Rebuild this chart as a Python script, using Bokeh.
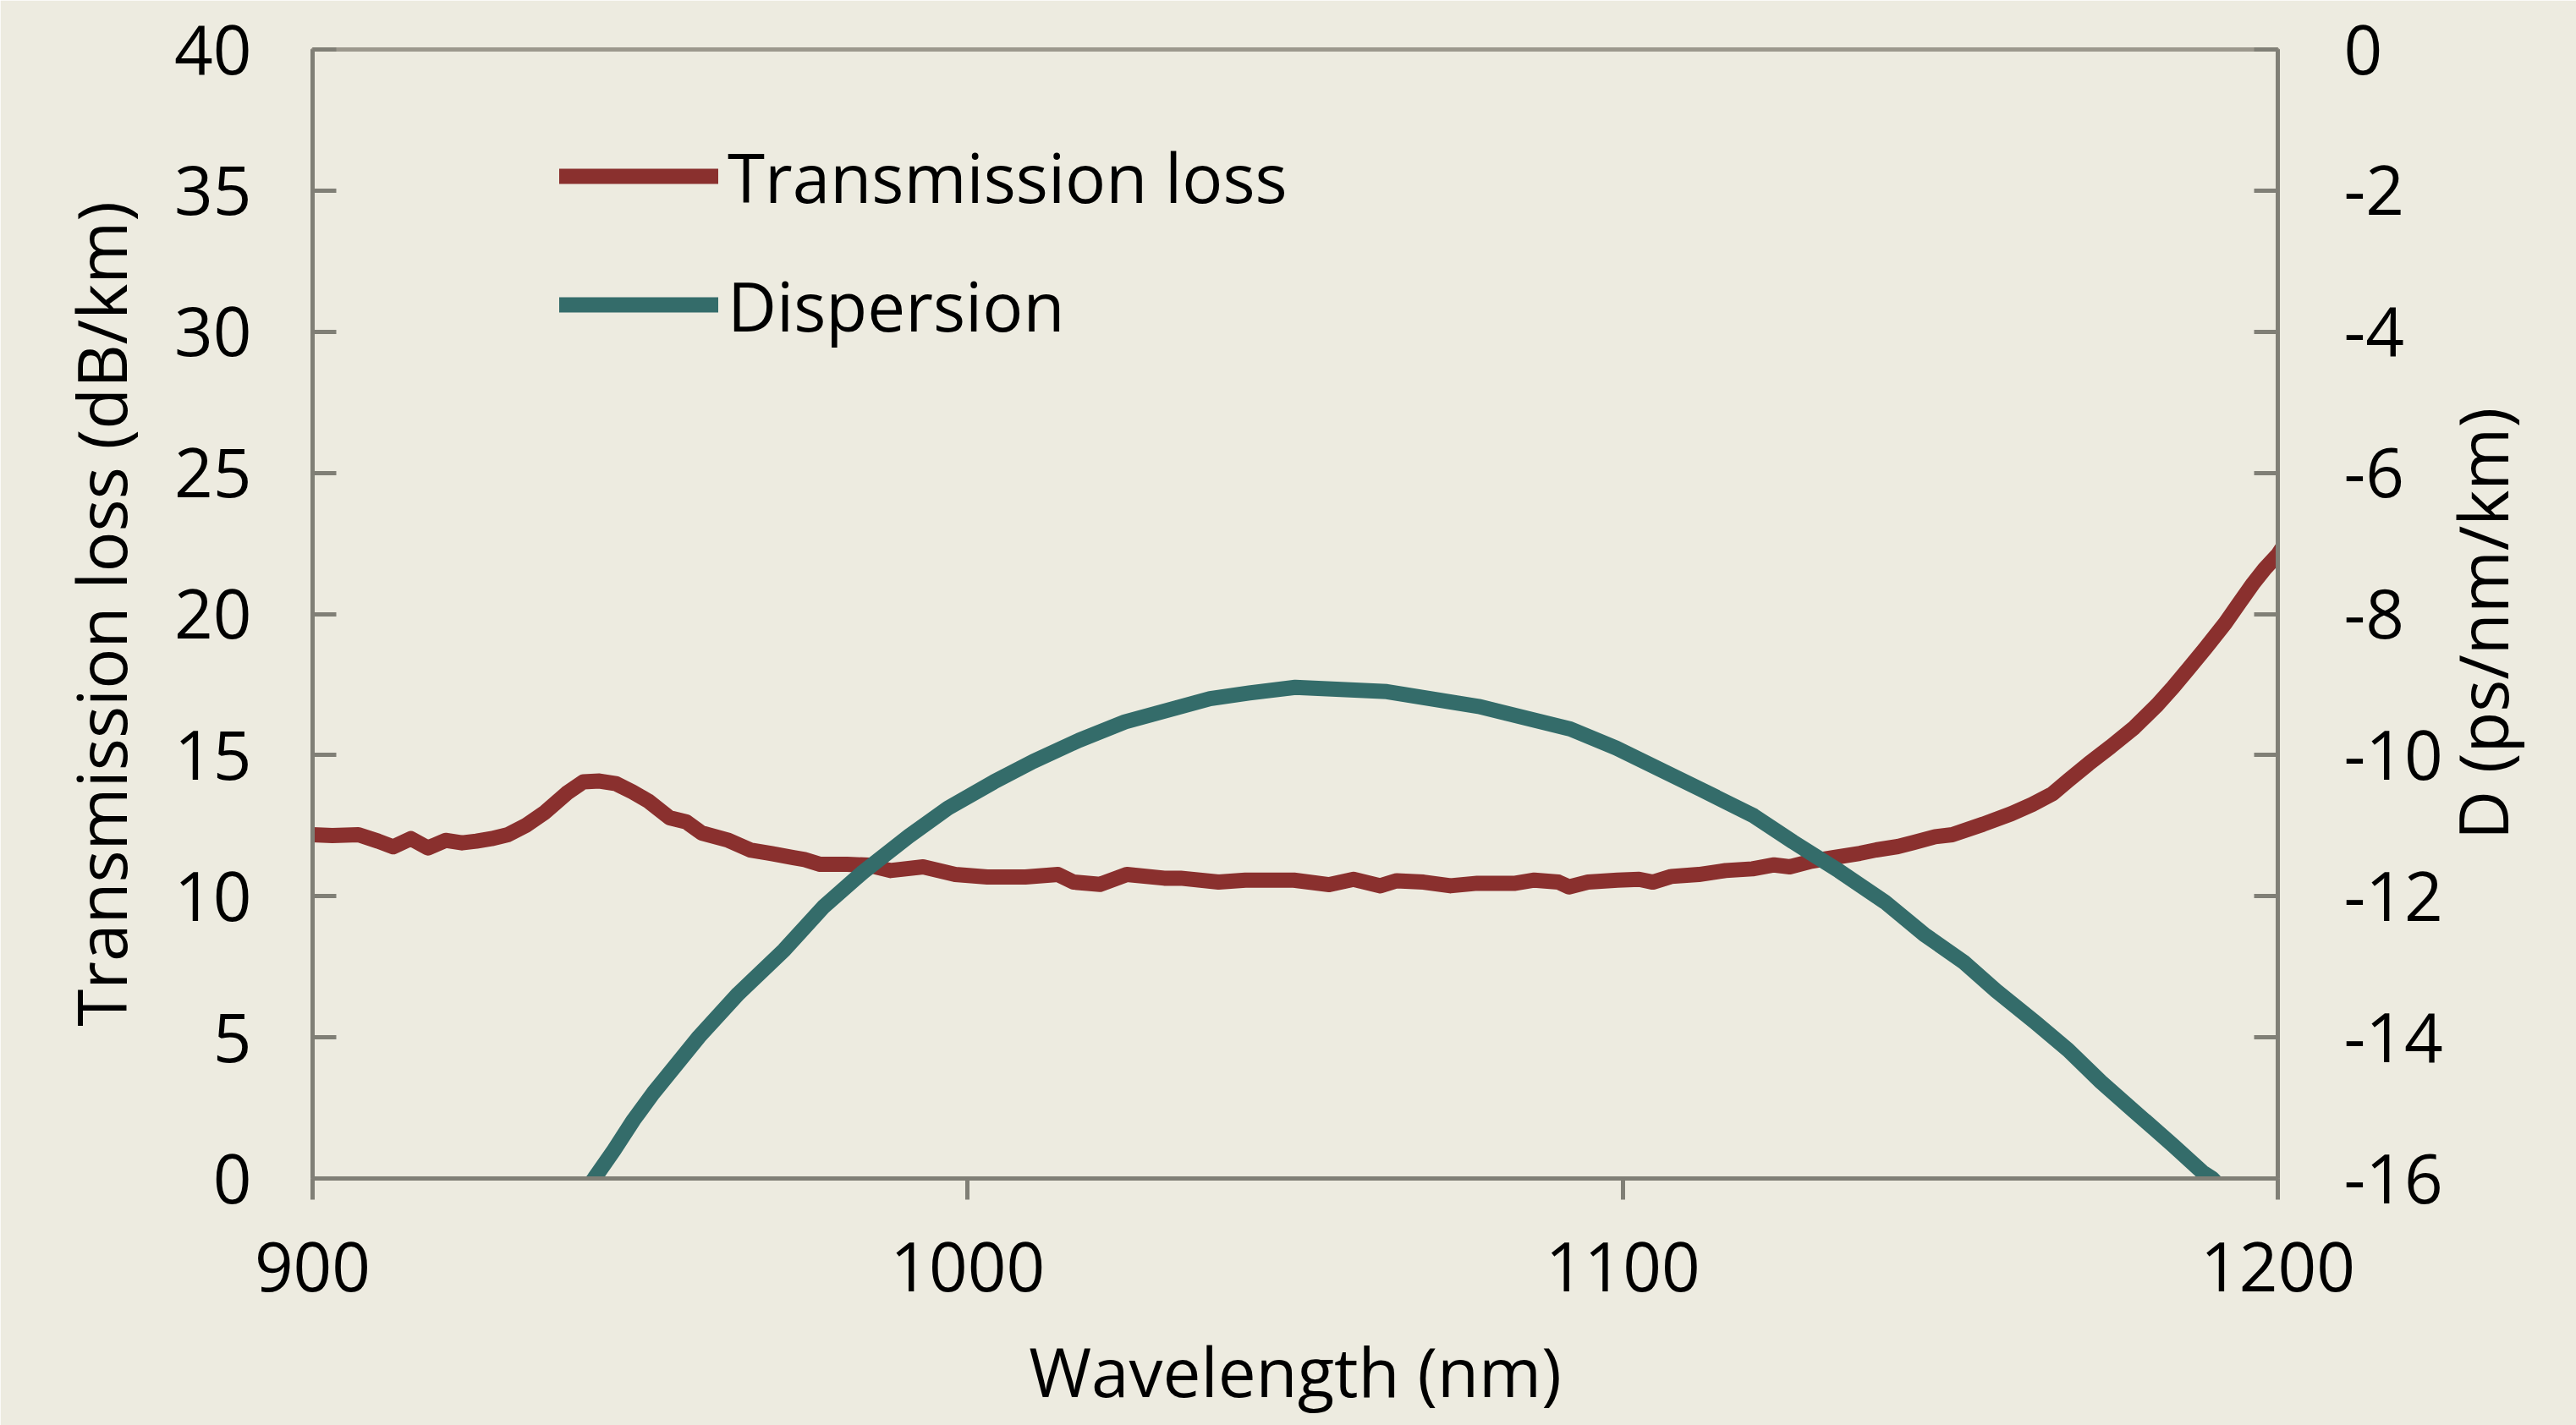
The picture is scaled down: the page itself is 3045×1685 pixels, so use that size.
import math
from bokeh.plotting import figure
from bokeh.models import Range1d, LinearAxis, FixedTicker, Legend, LegendItem
from bokeh.embed import file_html
from bokeh.resources import INLINE

# ---------------- data ----------------
wavelength_loss = [900, 903, 907, 910, 912.3, 915, 917.6, 920.3, 922.8, 925, 927.3, 929.8,
                   932.5, 935.5, 938.8, 941.3, 943.8, 946.3, 948.8, 951.2, 954.5, 957, 959.4,
                   963.5, 966.8, 970.1, 973.4, 975.1, 977.5, 981.6, 984.9, 988.2, 993.2, 998.1,
                   1003, 1008.8, 1013.8, 1016.2, 1020.2, 1024.3, 1030, 1032.5, 1038.3, 1042.4,
                   1049.8, 1055.2, 1058.9, 1063, 1065.5, 1069.6, 1073.7, 1077.8, 1083.6, 1086.5,
                   1090.2, 1091.8, 1094.7, 1099.2, 1102.5, 1104.6, 1107.4, 1111.6, 1115.7, 1119.8,
                   1123.1, 1125.5, 1128.8, 1132.1, 1136.2, 1138.7, 1142, 1144.4, 1147.7, 1150.3,
                   1155, 1159.3, 1162.5, 1165.6, 1168, 1171.1, 1174.5, 1178.1, 1181.6, 1184,
                   1186.4, 1189, 1192, 1194, 1196.2, 1198, 1200, 1201]
loss_db_km = [12.18, 12.15, 12.18, 11.95, 11.75, 12.04, 11.71, 11.98, 11.89, 11.95, 12.04, 12.18,
              12.5, 12.98, 13.65, 14.05, 14.08, 13.99, 13.7, 13.38, 12.78, 12.64, 12.24,
              11.98, 11.64, 11.51, 11.37, 11.30, 11.13, 11.13, 11.10, 10.91, 11.04, 10.77,
              10.68, 10.68, 10.77, 10.50, 10.42, 10.77, 10.64, 10.64, 10.50, 10.57,
              10.57, 10.41, 10.60, 10.37, 10.55, 10.50, 10.37, 10.46, 10.46, 10.57,
              10.50, 10.33, 10.50, 10.57, 10.60, 10.50, 10.70, 10.77, 10.91, 10.97,
              11.11, 11.04, 11.24, 11.37, 11.52, 11.64, 11.76, 11.90, 12.11, 12.18,
              12.55, 12.92, 13.25, 13.63, 14.1, 14.69, 15.3, 15.98, 16.78, 17.4,
              18.07, 18.8, 19.68, 20.35, 21.07, 21.6, 22.1, 22.45]

wavelength_disp = [941, 943, 946, 949, 952, 959, 965, 972, 978, 984, 991, 997, 1004, 1010, 1017,
                   1024, 1037, 1043, 1050, 1064, 1078, 1092, 1099, 1112, 1120, 1126, 1133, 1140,
                   1146, 1152, 1157, 1163, 1168, 1173, 1178, 1184, 1188.5, 1190, 1192.5]
dispersion_ps = [-16.25, -16.0, -15.6, -15.17, -14.79, -13.99, -13.38, -12.76, -12.15, -11.66,
                 -11.15, -10.75, -10.38, -10.09, -9.79, -9.53, -9.20, -9.12, -9.04, -9.10, -9.31,
                 -9.63, -9.90, -10.49, -10.86, -11.23, -11.64, -12.08, -12.54, -12.93, -13.34,
                 -13.79, -14.18, -14.63, -15.04, -15.53, -15.91, -16.0, -16.25]

x_ticks = [900, 1000, 1100, 1200]
left_ticks = [0, 5, 10, 15, 20, 25, 30, 35, 40]
right_ticks = [0, -2, -4, -6, -8, -10, -12, -14, -16]
right_tick_labels = ["0", "-2", "-4", "-6", "-8", "-10", "-12", "-14", "-16"]

series_names = ["Transmission loss", "Dispersion"]
x_title = "Wavelength (nm)"
left_title = "Transmission loss (dB/km)"
right_title = "D (ps/nm/km)"

# ---------------- style ----------------
FONT = "Open Sans"
FS = "80px"
BG = "#EDEBE0"
AXIS_COLOR = "#807F76"
TOP_COLOR = "#9C988D"
RED = "#8A302E"
TEAL = "#346C6A"
RIGHT_TITLE_START = -11.2   # where the rotated right-hand title begins (D units)

p = figure(width=3045, height=1685, output_backend="svg", toolbar_location=None,
           x_range=Range1d(900, 1200), y_range=Range1d(0, 40),
           min_border_left=369, min_border_right=352, min_border_top=58, min_border_bottom=292,
           background_fill_color=BG, border_fill_color=BG)
p.extra_y_ranges = {"disp": Range1d(right_ticks[-1], right_ticks[0])}

p.xgrid.visible = False
p.ygrid.visible = False
p.outline_line_color = TOP_COLOR
p.outline_line_width = 5


def style_axis(ax):
    ax.axis_line_color = AXIS_COLOR
    ax.axis_line_width = 5
    ax.major_tick_line_color = AXIS_COLOR
    ax.major_tick_line_width = 5
    ax.minor_tick_line_color = None
    ax.major_label_text_font = FONT
    ax.major_label_text_font_size = FS
    ax.major_label_text_color = "black"
    ax.axis_label_text_font = FONT
    ax.axis_label_text_font_size = FS
    ax.axis_label_text_font_style = "normal"
    ax.axis_label_text_color = "black"


xa = p.xaxis[0]
style_axis(xa)
xa.ticker = FixedTicker(ticks=x_ticks)
xa.major_tick_in = 0
xa.major_tick_out = 25
xa.major_label_standoff = 50
xa.axis_label = x_title
xa.axis_label_standoff = 36

ya = p.yaxis[0]
style_axis(ya)
ya.ticker = FixedTicker(ticks=left_ticks)
ya.major_tick_in = 28
ya.major_tick_out = 0
ya.major_label_standoff = 72
ya.axis_label = left_title
ya.axis_label_standoff = 30

# right side: (1) axis line + tick marks, (2) rotated title, (3) tick numbers
r_line = LinearAxis(y_range_name="disp")
style_axis(r_line)
r_line.ticker = FixedTicker(ticks=right_ticks)
r_line.major_tick_in = 28
r_line.major_tick_out = 0
r_line.major_label_standoff = 0
r_line.major_label_text_color = None
p.add_layout(r_line, "right")

r_title = LinearAxis(y_range_name="disp")
style_axis(r_title)
r_title.axis_line_color = None
r_title.major_tick_line_color = None
r_title.ticker = FixedTicker(ticks=[RIGHT_TITLE_START])
r_title.major_label_overrides = {RIGHT_TITLE_START: right_title}
r_title.major_label_orientation = math.pi / 2
r_title.major_tick_in = 0
r_title.major_tick_out = 0
r_title.major_label_standoff = 241
p.add_layout(r_title, "right")

r_nums = LinearAxis(y_range_name="disp")
style_axis(r_nums)
r_nums.axis_line_color = None
r_nums.major_tick_line_color = None
r_nums.ticker = FixedTicker(ticks=right_ticks)
r_nums.major_label_overrides = {t: s for t, s in zip(right_ticks, right_tick_labels)}
r_nums.major_tick_in = 0
r_nums.major_tick_out = 0
r_nums.major_label_standoff = -275
p.add_layout(r_nums, "right")

r_loss = p.line(wavelength_loss, loss_db_km, line_color=RED, line_width=18,
                line_cap="round", line_join="round")
r_disp = p.line(wavelength_disp, dispersion_ps, y_range_name="disp", line_color=TEAL,
                line_width=18, line_cap="round", line_join="round")

legend = Legend(items=[LegendItem(label=series_names[0], renderers=[r_loss]),
                       LegendItem(label=series_names[1], renderers=[r_disp])],
                location=(292, 968), orientation="vertical", padding=0, margin=0,
                spacing=22, glyph_width=188, glyph_height=130, label_height=130,
                label_standoff=11, border_line_color=None, background_fill_alpha=0,
                label_text_font=FONT, label_text_font_size=FS, label_text_color="black")
p.add_layout(legend)

open("out.html", "w").write(file_html(p, INLINE))
